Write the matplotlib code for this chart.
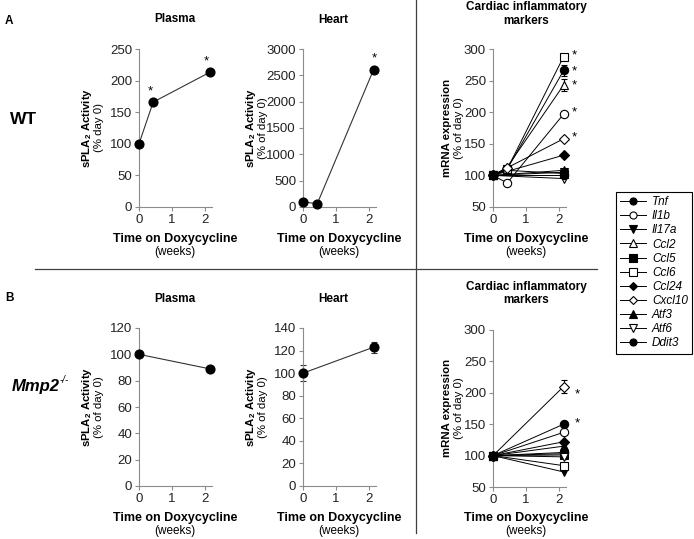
import numpy as np
import matplotlib.pyplot as plt
from matplotlib.lines import Line2D

plt.rcParams['font.family'] = ['Liberation Sans', 'DejaVu Sans']
plt.rcParams['mathtext.fontset'] = 'custom'
plt.rcParams['mathtext.rm'] = 'Liberation Sans'
plt.rcParams['mathtext.it'] = 'Liberation Sans:italic'
plt.rcParams['mathtext.bf'] = 'Liberation Sans:bold'

# Data
weeks_wt = [0, 0.43, 2.14]
weeks_ko = [0, 2.14]

plasma_wt = [100, 166, 213]
heart_wt = [100, 60, 2610]
plasma_ko = [100, 89]
heart_ko = [100, 123]
heart_ko_err = [7, 5]

genes = ['Tnf', 'Il1b', 'Il17a', 'Ccl2', 'Ccl5', 'Ccl6', 'Ccl24', 'Cxcl10', 'Atf3', 'Atf6', 'Ddit3']
# WT markers at 0, 0.43 and 2.14 weeks (nan = not measured)
markers_wt = [
    [100, 110, 266],
    [100, 88, 197],
    [100, np.nan, 105],
    [100, 113, 243],
    [100, 108, 103],
    [100, 110, 288],
    [100, np.nan, 132],
    [100, 112, 158],
    [100, np.nan, 108],
    [100, np.nan, 95],
    [100, np.nan, 100],
]
markers_wt_err = [9, 0, 0, 10, 0, 0, 0, 0, 0, 0, 0]
markers_ko = [
    [100, 105],
    [100, 137],
    [100, 74],
    [100, 103],
    [100, 101],
    [100, 84],
    [100, 122],
    [100, 210],
    [100, 115],
    [100, 98],
    [100, 150],
]
markers_ko_err = [0, 0, 0, 0, 0, 0, 0, 10, 0, 0, 0]

gene_marker = ['o', 'o', 'v', '^', 's', 's', 'D', 'D', '^', 'v', 'o']
gene_filled = [True, False, True, False, True, False, True, False, True, False, True]

W, H = 694, 539
fig = plt.figure(figsize=(W / 100, H / 100), dpi=100)


def fx(x):
    return x / W


def fy(y):
    return 1 - y / H


def ft(x, y, s, **kw):
    kw.setdefault('ha', 'center')
    kw.setdefault('va', 'center')
    fig.text(fx(x), fy(y), s, **kw)


def make_ax(left, top, bottom, ymax, ystep, ymin=0):
    xr = left + 2.2 * 33.0
    ax = fig.add_axes([fx(left), fy(bottom), fx(xr) - fx(left), fy(top) - fy(bottom)])
    ax.set_xlim(0, 2.2)
    ax.set_ylim(ymin, ymax)
    ax.set_xticks([0, 1, 2])
    ax.set_yticks(np.arange(ymin, ymax + 1, ystep))
    for s in ['top', 'right']:
        ax.spines[s].set_visible(False)
    for s in ['left', 'bottom']:
        ax.spines[s].set_color('#8c8c8c')
        ax.spines[s].set_linewidth(0.8)
    ax.tick_params(direction='out', length=3, width=0.8, color='#8c8c8c',
                   labelsize=9.5, labelcolor='#222222', pad=2)
    ax.patch.set_alpha(0)
    return ax


def simple_series(ax, x, y, err=None):
    ax.plot(x, y, color='#333333', lw=0.8, zorder=2)
    if err is not None:
        ax.errorbar(x, y, yerr=err, fmt='none', ecolor='#333333', elinewidth=0.8,
                    capsize=2.5, capthick=0.8, zorder=2, clip_on=False)
    ax.plot(x, y, 'o', color='black', ms=6.3, zorder=3, clip_on=False, ls='none')


def gene_series(ax, xs, vals, errs):
    for i, g in enumerate(genes):
        v = np.array(vals[i], dtype=float)
        x = np.array(xs, dtype=float)
        ok = ~np.isnan(v)
        fc = 'black' if gene_filled[i] else 'white'
        ms = 6 if gene_marker[i] != 'D' else 5
        ax.plot(x[ok], v[ok], color='black', lw=0.7, marker=gene_marker[i], ms=ms,
                mfc=fc, mec='black', mew=0.8, clip_on=False, label=g, zorder=3)
        if errs[i]:
            ax.errorbar(x[-1], v[-1], yerr=errs[i], fmt='none', ecolor='black',
                        elinewidth=0.8, capsize=2.5, capthick=0.8, zorder=2, clip_on=False)


def star(ax, x, y):
    ax.text(x, y, '*', ha='center', va='center', fontsize=9.5, clip_on=False)


# Row A (WT)
ax1 = make_ax(139, 49, 207, 250, 50)
simple_series(ax1, weeks_wt, plasma_wt)
star(ax1, 0.35, 183)
star(ax1, 2.03, 231)

ax2 = make_ax(303, 49, 207, 3000, 500)
simple_series(ax2, weeks_wt, heart_wt)
star(ax2, 2.17, 2830)

ax3 = make_ax(493, 49, 207, 300, 50, ymin=50)
gene_series(ax3, weeks_wt, markers_wt, markers_wt_err)
for yv in [290, 264, 243, 199, 160]:
    star(ax3, 2.45, yv)

# Row B (Mmp2-/-)
ax4 = make_ax(139, 328, 486, 120, 20)
simple_series(ax4, weeks_ko, plasma_ko)

ax5 = make_ax(303, 328, 486, 140, 20)
simple_series(ax5, weeks_ko, heart_ko, heart_ko_err)

ax6 = make_ax(493, 330, 487, 300, 50, ymin=50)
gene_series(ax6, weeks_ko, markers_ko, markers_ko_err)
star(ax6, 2.54, 198)
star(ax6, 2.54, 152)

# Titles
ft(175, 19, 'Plasma', fontsize=8.5, fontweight='bold')
ft(333, 20, 'Heart', fontsize=8.5, fontweight='bold')
ft(526, 7, 'Cardiac inflammatory', fontsize=8.5, fontweight='bold')
ft(526, 21, 'markers', fontsize=8.5, fontweight='bold')
ft(175, 299, 'Plasma', fontsize=8.5, fontweight='bold')
ft(333, 299, 'Heart', fontsize=8.5, fontweight='bold')
ft(526, 287, 'Cardiac inflammatory', fontsize=8.5, fontweight='bold')
ft(526, 300, 'markers', fontsize=8.5, fontweight='bold')

# Y labels
ylab = [(139, 128, '(% day 0)', 'sPLA$_\\mathbf{2}$ Activity'),
        (303, 128, '(% of day 0)', 'sPLA$_\\mathbf{2}$ Activity'),
        (493, 128, '(% of day 0)', 'mRNA expression'),
        (139, 407, '(% of day 0)', 'sPLA$_\\mathbf{2}$ Activity'),
        (303, 407, '(% of day 0)', 'sPLA$_\\mathbf{2}$ Activity'),
        (493, 408, '(% of day 0)', 'mRNA expression')]
for sx, cy, sub, main in ylab:
    off = 52 if 'sPLA' in main else 46
    ft(sx - off, cy, main, fontsize=8.2, fontweight='bold', rotation=90)
    ft(sx - off + 12.5, cy, sub, fontsize=8.2, rotation=90)

# X labels
for cx in [175, 339, 526]:
    ft(cx, 239, 'Time on Doxycycline', fontsize=9, fontweight='bold')
    ft(cx, 252, '(weeks)', fontsize=8.5)
    ft(cx, 518, 'Time on Doxycycline', fontsize=9, fontweight='bold')
    ft(cx, 531, '(weeks)', fontsize=8.5)

# Panel labels
ft(5, 21, 'A', fontsize=8.5, fontweight='bold', ha='left')
ft(5, 298, 'B', fontsize=8.5, fontweight='bold', ha='left')
ft(10, 119, 'WT', fontsize=12.5, fontweight='bold', ha='left')
ft(12, 387, 'Mmp2', fontsize=12, fontweight='bold', fontstyle='italic', ha='left')
ft(60, 380, '-/-', fontsize=7, fontstyle='italic', ha='left')

# Divider lines
fig.add_artist(Line2D([fx(35), fx(597)], [fy(269), fy(269)], color='#404040', lw=0.9))
fig.add_artist(Line2D([fx(416), fx(416)], [fy(0), fy(533)], color='#404040', lw=0.9))

# Legend
handles, labels = ax3.get_legend_handles_labels()
leg = fig.legend(handles, labels, loc='upper left', bbox_to_anchor=(fx(616), fy(192)),
                 frameon=True, fancybox=False, edgecolor='black', framealpha=1,
                 prop={'style': 'italic', 'size': 8.5}, handlelength=2.2,
                 handletextpad=0.5, labelspacing=0.18, borderpad=0.35,
                 borderaxespad=0, markerscale=0.85)
leg.get_frame().set_linewidth(0.8)

fig.savefig('out.png', dpi=100)
